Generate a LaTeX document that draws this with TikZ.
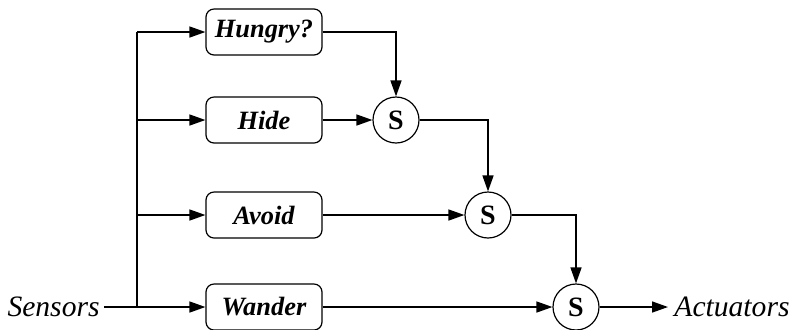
\documentclass[tikz,border=0pt]{standalone}
\usepackage{fontspec}
\setmainfont{Liberation Serif}
\usetikzlibrary{arrows.meta}
\begin{document}
\begin{tikzpicture}[
		x=0.5pt, y=-0.5pt,
		behav/.style={rectangle, rounded corners=4pt, draw, line width=0.6pt, minimum width=58pt, minimum height=23pt, inner sep=0pt, font=\fontsize{13.2}{16}\selectfont\bfseries\itshape},
		supp/.style={circle, draw, line width=0.6pt, minimum size=23pt, inner sep=0pt, font=\fontsize{14}{16}\selectfont\bfseries},
		io/.style={font=\fontsize{14.8}{18}\selectfont\itshape},
		wire/.style={line width=0.75pt},
		>={Triangle[length=8pt,width=5.5pt]}
	]
		\useasboundingbox (0,0) rectangle (795,329);
		
		% behaviours
		\node[behav] (hungry) at (264,32) {Hungry?};
		\node[behav] (hide) at (264,120) {Hide};
		\node[behav] (avoid) at (264,215) {Avoid};
		\node[behav] (wander) at (264,307) {Wander};
		
		% suppressor nodes
		\node[supp] (s1) at (396,120) {S};
		\node[supp] (s2) at (488,215) {S};
		\node[supp] (s3) at (576,307) {S};
		
		% inputs and outputs
		\node[io, anchor=east, inner sep=2pt] (sens) at (104,307) {Sensors};
		\node[io, anchor=west, inner sep=3pt] (act) at (668,307) {Actuators};
		\coordinate (bus) at (137,307);
		\coordinate (bustop) at (137,32);
		
		% sensor bus
		\draw[wire] (bus) -- (bustop);
		\draw[wire, ->] (sens) -- (wander);
		\draw[wire, ->] (bustop) -- (hungry);
		\draw[wire, ->] (bus |- hide) -- (hide);
		\draw[wire, ->] (bus |- avoid) -- (avoid);
		
		% subsumption chain
		\draw[wire, ->] (hungry) -| (s1);
		\draw[wire, ->] (hide) -- (s1);
		\draw[wire, ->] (s1) -| (s2);
		\draw[wire, ->] (avoid) -- (s2);
		\draw[wire, ->] (s2) -| (s3);
		\draw[wire, ->] (wander) -- (s3);
		\draw[wire, ->] (s3) -- (act);
	\end{tikzpicture}
\end{document}
